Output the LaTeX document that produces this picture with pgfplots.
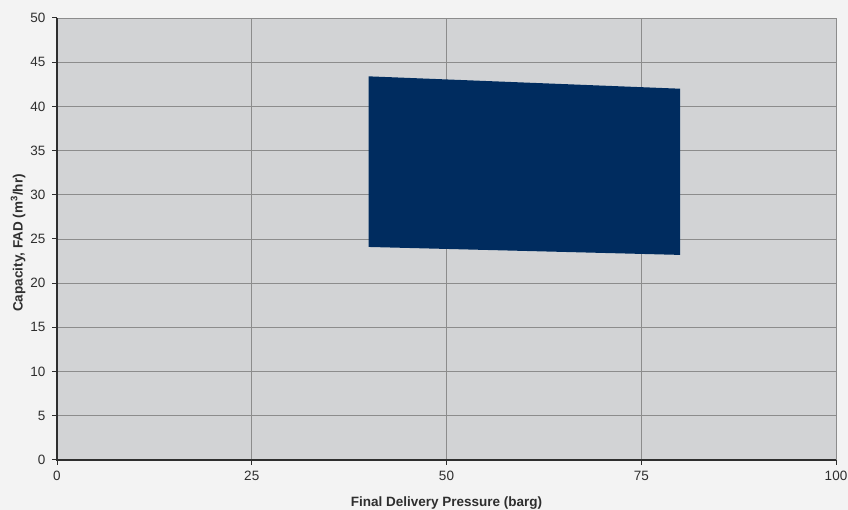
\documentclass[border=0pt]{standalone}
\usepackage{fontspec}
\setmainfont{Liberation Sans}
\usepackage{pgfplots}
\pgfplotsset{compat=1.18}
\definecolor{bgc}{HTML}{F3F3F3}
\definecolor{plotbg}{HTML}{D2D3D5}
\definecolor{gridc}{HTML}{8C8C8C}
\definecolor{navy}{HTML}{002C5F}
\definecolor{axc}{HTML}{2E2E2E}
\begin{document}
\begin{tikzpicture}[x=1pt,y=1pt]
\path[use as bounding box, fill=bgc] (0,0) rectangle (848,510);
\begin{axis}[
  at={(57pt,50pt)}, anchor=south west,
  scale only axis, width=779pt, height=442pt,
  xmin=0, xmax=100, ymin=0, ymax=50,
  xtick={0,25,50,75,100}, ytick={0,5,...,50},
  grid=major,
  major grid style={gridc, line width=0.9pt},
  axis background/.style={fill=plotbg},
  axis line style={draw=none},
  tick style={axc, line width=1pt},
  tick align=outside,
  major tick length=5pt,
  xtick pos=bottom, ytick pos=left,
  tick label style={font=\fontsize{13.5}{15}\selectfont, color=axc},
  xticklabel style={yshift=-3pt},
  yticklabel style={xshift=-3pt},
  /pgf/number format/assume math mode=true,
  xlabel={Final Delivery Pressure (barg)},
  ylabel={Capacity, FAD (m\textsuperscript{3}/hr)},
  label style={font=\fontsize{13.5}{15}\selectfont\bfseries, color=axc},
  xlabel style={at={(axis description cs:0.5,0)}, anchor=center, yshift=-43pt},
  ylabel style={at={(axis description cs:0,0.5)}, anchor=center, yshift=39pt, xshift=-4pt},
  clip=false,
]
\addplot[fill=navy, draw=none] coordinates {(40,24.1) (40,43.4) (80,42.0) (80,23.2)} -- cycle;
\draw[gridc, line width=0.9pt] (axis cs:0,50) -- (axis cs:100,50) -- (axis cs:100,0);
\draw[axc, line width=1.6pt] (axis cs:0,50) -- (axis cs:0,0) -- (axis cs:100,0);
\end{axis}
\end{tikzpicture}
\end{document}
